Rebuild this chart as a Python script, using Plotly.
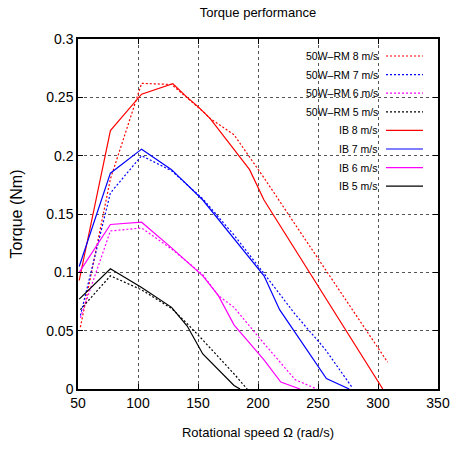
import plotly.graph_objects as go

# ---- data ----
rm8_x = [52, 77, 103, 128, 154, 160, 180, 205, 231, 256, 282, 308]
rm8_y = [0.053, 0.18, 0.262, 0.261, 0.238, 0.232, 0.218, 0.181, 0.141, 0.103, 0.063, 0.023]

rm7_x = [52, 77, 103, 128, 154, 180, 205, 231, 256, 278]
rm7_y = [0.063, 0.168, 0.200, 0.187, 0.163, 0.132, 0.099, 0.064, 0.034, 0.002]

rm6_x = [52, 77, 103, 128, 154, 167, 180, 205, 231, 249]
rm6_y = [0.061, 0.1355, 0.138, 0.120, 0.098, 0.080, 0.070, 0.039, 0.008, 0.0]

rm5_x = [52, 77, 103, 128, 141, 154, 180, 191]
rm5_y = [0.068, 0.097, 0.085, 0.069, 0.056, 0.042, 0.013, 0.0]

ib8_x = [51, 77, 103, 129, 141, 150, 160, 182, 193, 205, 304]
ib8_y = [0.093, 0.2215, 0.2527, 0.2616, 0.250, 0.242, 0.232, 0.202, 0.188, 0.162, 0.0]

ib7_x = [51, 77, 103, 128, 154, 180, 205, 218, 257, 276]
ib7_y = [0.105, 0.185, 0.2056, 0.188, 0.162, 0.129, 0.097, 0.068, 0.009, 0.0]

ib6_x = [51, 77, 103, 128, 154, 167, 180, 205, 219, 235]
ib6_y = [0.100, 0.141, 0.143, 0.121, 0.097, 0.080, 0.055, 0.025, 0.006, 0.0]

ib5_x = [51, 77, 103, 128, 141, 154, 180, 185]
ib5_y = [0.077, 0.103, 0.087, 0.070, 0.054, 0.030, 0.003, 0.0]

names = ["50W\u2013RM 8 m/s", "50W\u2013RM 7 m/s", "50W\u2013RM 6 m/s", "50W\u2013RM 5 m/s",
         "IB 8 m/s", "IB 7 m/s", "IB 6 m/s", "IB 5 m/s"]
xs = [rm8_x, rm7_x, rm6_x, rm5_x, ib8_x, ib7_x, ib6_x, ib5_x]
ys = [rm8_y, rm7_y, rm6_y, rm5_y, ib8_y, ib7_y, ib6_y, ib5_y]
colors = ["#ff0000", "#0000ff", "#ff00ff", "#000000"] * 2
dashes = ["2px,2px"] * 4 + ["solid"] * 4

x_ticks = [50, 100, 150, 200, 250, 300, 350]
y_ticks = [0, 0.05, 0.1, 0.15, 0.2, 0.25, 0.3]
y_tick_text = ["0", "0.05", "0.1", "0.15", "0.2", "0.25", "0.3"]

FONT = "Liberation Sans, Arial, sans-serif"

fig = go.Figure()
for n, x, y, c, d in zip(names, xs, ys, colors, dashes):
    fig.add_trace(go.Scatter(x=x, y=y, mode="lines", name=n,
                             line=dict(color=c, width=1.2, dash=d),
                             showlegend=False))

# manual legend (text left, sample right, like gnuplot)
W, H = 451, 449
L, R, T, B = 78, 13, 39, 60
pw, ph = W - L - R, H - T - B
def px2paper(px, py):
    return (px - L) / pw, 1 - (py - T) / ph

row0, step = 56, 18.6
for i, (n, c, d) in enumerate(zip(names, colors, dashes)):
    py = row0 + i * step
    tx, ty = px2paper(380, py)
    fig.add_annotation(x=tx, y=ty, xref="paper", yref="paper", text=n,
                       showarrow=False, xanchor="right", yanchor="middle",
                       font=dict(family=FONT, size=10.5, color="black"))
    x0, yy = px2paper(386, py)
    x1, _ = px2paper(423, py)
    fig.add_shape(type="line", xref="paper", yref="paper", x0=x0, x1=x1, y0=yy, y1=yy,
                  line=dict(color=c, width=1.2, dash=d))

axis_common = dict(showline=True, linecolor="black", linewidth=1.5, mirror="ticks",
                   ticks="inside", ticklen=5, tickcolor="black", automargin=False,
                   showgrid=True, gridcolor="#555555", gridwidth=1, griddash="dot",
                   zeroline=False, tickfont=dict(family=FONT, size=14, color="black"))

fig.update_xaxes(range=[50, 350], tickvals=x_ticks, ticktext=[str(v) for v in x_ticks],
                 title=dict(text="Rotational speed \u03a9 (rad/s)", standoff=18,
                            font=dict(family=FONT, size=13, color="black")),
                 **axis_common)
fig.update_yaxes(range=[0, 0.3], tickvals=y_ticks, ticktext=y_tick_text,
                 title=dict(text="Torque (Nm)", standoff=20,
                            font=dict(family=FONT, size=16, color="black")),
                 **axis_common)

fig.update_layout(width=W, height=H, margin=dict(l=L, r=R, t=T, b=B),
                  paper_bgcolor="white", plot_bgcolor="white",
                  title=dict(text="Torque performance", x=0.572, xanchor="center",
                             y=1 - 12 / H, yanchor="middle",
                             font=dict(family=FONT, size=13, color="black")),
                  showlegend=False)

fig.write_html("out.html")
